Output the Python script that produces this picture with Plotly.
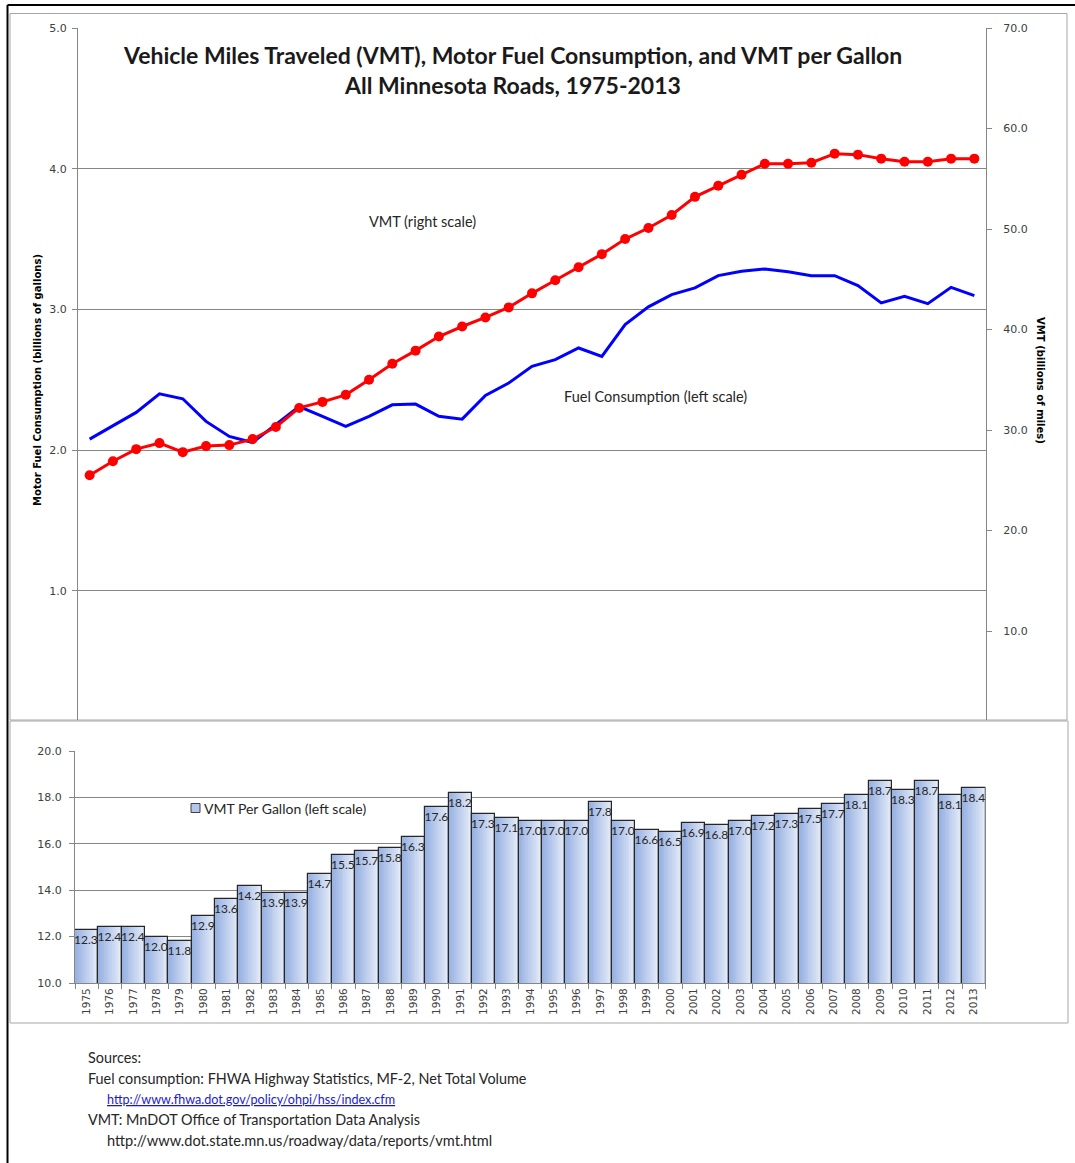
import plotly.graph_objects as go

# ---------------- data ----------------
years = [str(y) for y in range(1975, 2014)]

vmt_billions = [25.5, 26.9, 28.1, 28.7, 27.8, 28.4, 28.5, 29.1, 30.3, 32.2,
                32.8, 33.5, 35.0, 36.6, 37.9, 39.3, 40.3, 41.2, 42.2, 43.6,
                44.9, 46.2, 47.5, 49.0, 50.1, 51.4, 53.2, 54.3, 55.4, 56.5,
                56.5, 56.6, 57.5, 57.4, 57.0, 56.7, 56.7, 57.0, 57.0]

fuel_billion_gal = [2.078, 2.173, 2.268, 2.400, 2.365, 2.204, 2.097, 2.054, 2.185, 2.310,
                    2.240, 2.168, 2.240, 2.322, 2.327, 2.240, 2.220, 2.389, 2.477, 2.595,
                    2.643, 2.726, 2.666, 2.892, 3.018, 3.105, 3.153, 3.240, 3.271, 3.288,
                    3.267, 3.240, 3.240, 3.169, 3.046, 3.093, 3.041, 3.157, 3.098]

vmt_per_gallon = [12.3, 12.4, 12.4, 12.0, 11.8, 12.9, 13.6, 14.2, 13.9, 13.9,
                  14.7, 15.5, 15.7, 15.8, 16.3, 17.6, 18.2, 17.3, 17.1, 17.0,
                  17.0, 17.0, 17.8, 17.0, 16.6, 16.5, 16.9, 16.8, 17.0, 17.2,
                  17.3, 17.5, 17.7, 18.1, 18.7, 18.3, 18.7, 18.1, 18.4]

left_ticks = [1.0, 2.0, 3.0, 4.0, 5.0]
right_ticks = [10.0, 20.0, 30.0, 40.0, 50.0, 60.0, 70.0]
bottom_ticks = [10.0, 12.0, 14.0, 16.0, 18.0, 20.0]

title_line1 = "Vehicle Miles Traveled (VMT), Motor Fuel Consumption, and VMT per Gallon"
title_line2 = "All Minnesota Roads, 1975-2013"

# ---------------- geometry helpers ----------------
W, H = 1075, 1163
def px(x):
    return x / W
def py(y):
    return 1 - y / H

GRID = "#868686"
TICKFONT = dict(family="DejaVu Sans", size=11, color="#404040")
TXT = "Lato"

fig = go.Figure()

# ---- top chart lines ----
fig.add_trace(go.Scatter(
    x=years, y=fuel_billion_gal, xaxis="x", yaxis="y", mode="lines",
    line=dict(color="#0000FF", width=3), name="Fuel Consumption", showlegend=False,
    hoverinfo="x+y"))
fig.add_trace(go.Scatter(
    x=years, y=vmt_billions, xaxis="x", yaxis="y2", mode="lines+markers",
    line=dict(color="#FF0000", width=3), marker=dict(color="#FF0000", size=10),
    name="VMT", showlegend=False, hoverinfo="x+y"))

# ---- bottom chart gradient bars (vertical stripes) ----
N = 12
c0 = (152, 178, 226)
c1 = (228, 235, 248)
for i in range(N):
    t = i / (N - 1)
    col = "rgb(%d,%d,%d)" % tuple(round(a + (b - a) * t) for a, b in zip(c0, c1))
    fig.add_trace(go.Bar(
        x=years, y=vmt_per_gallon, xaxis="x2", yaxis="y3",
        base=0, offset=-0.5 + i / N, width=1 - i / N,
        marker=dict(color=col, line=dict(width=0)),
        showlegend=False, hoverinfo="skip"))
fig.add_trace(go.Bar(
    x=years, y=vmt_per_gallon, xaxis="x2", yaxis="y3",
    offset=-0.5, width=1,
    marker=dict(color="rgba(0,0,0,0)", line=dict(color="#262626", width=1.2)),
    text=["%.1f" % v for v in vmt_per_gallon],
    textposition="inside", insidetextanchor="end", textangle=0,
    constraintext="none",
    textfont=dict(family=TXT, size=12, color="#262626"),
    insidetextfont=dict(family=TXT, size=12, color="#262626"),
    name="VMT Per Gallon (left scale)", showlegend=False, hoverinfo="x+y"))

# ---------------- layout ----------------
fig.update_layout(
    width=W, height=H, autosize=False,
    margin=dict(l=0, r=0, t=0, b=0, pad=0),
    paper_bgcolor="white", plot_bgcolor="rgba(0,0,0,0)",
    barmode="overlay", bargap=0,
    showlegend=False,
    xaxis=dict(domain=[px(78), px(986)], anchor="y", type="category",
               range=[-0.5, 38.5], showticklabels=False, ticks="",
               showline=False, showgrid=False, zeroline=False, automargin=False),
    yaxis=dict(domain=[py(720), py(28)], anchor="x", range=[0.082, 5.0],
               tickvals=left_ticks, ticktext=["%.1f" % v for v in left_ticks],
               showgrid=True, gridcolor=GRID, gridwidth=1,
               showline=True, linecolor=GRID, linewidth=1,
               ticks="outside", ticklen=5, tickcolor=GRID,
               ticklabelstandoff=3, zeroline=False, tickfont=TICKFONT, automargin=False),
    yaxis2=dict(overlaying="y", side="right", anchor="x", range=[1.15, 70.0],
                tickvals=right_ticks, ticktext=["%.1f" % v for v in right_ticks],
                showgrid=False, showline=True, linecolor=GRID, linewidth=1,
                ticks="outside", ticklen=5, tickcolor=GRID,
                ticklabelstandoff=9, zeroline=False, tickfont=TICKFONT, automargin=False),
    xaxis2=dict(domain=[px(75), px(985.5)], anchor="y3", type="category",
                range=[-0.5, 38.5], tickangle=-90, ticks="outside",
                tickson="boundaries", ticklen=5, tickcolor=GRID,
                showline=True, linecolor=GRID, linewidth=1, showgrid=False,
                tickfont=dict(family="DejaVu Sans", size=10.5, color="#404040"),
                automargin=False),
    yaxis3=dict(domain=[py(983), py(751)], anchor="x2", range=[10, 20],
                tickvals=bottom_ticks, ticktext=["%.1f" % v for v in bottom_ticks],
                showgrid=True, gridcolor=GRID, gridwidth=1,
                showline=True, linecolor=GRID, linewidth=1,
                ticks="outside", ticklen=5, tickcolor=GRID,
                ticklabelstandoff=5, zeroline=False, tickfont=TICKFONT, automargin=False),
)

shapes = []
# top chart frame
shapes.append(dict(type="rect", xref="paper", yref="paper",
                   x0=px(10), x1=px(1067), y0=py(720), y1=py(13.5),
                   line=dict(color="#a6a6a6", width=1), layer="below"))
# bottom chart frame (white panel)
shapes.append(dict(type="rect", xref="paper", yref="paper",
                   x0=px(10), x1=px(1068), y0=py(1023), y1=py(721),
                   line=dict(color="#a6a6a6", width=1), fillcolor="white", layer="below"))
# outer black border (top and left)
shapes.append(dict(type="line", xref="paper", yref="paper",
                   x0=px(7.5), x1=1, y0=py(5), y1=py(5),
                   line=dict(color="black", width=2)))
shapes.append(dict(type="line", xref="paper", yref="paper",
                   x0=px(7.5), x1=px(7.5), y0=py(5), y1=0,
                   line=dict(color="black", width=2)))
# legend swatch
shapes.append(dict(type="rect", xref="paper", yref="paper",
                   x0=px(191), x1=px(200), y0=py(812.5), y1=py(803.5),
                   fillcolor="#b4c7ea", line=dict(color="#404040", width=1)))
fig.update_layout(shapes=shapes)

ann = []
def text(x, y, s, size=14, color="#262626", bold=False, xanchor="left", family=TXT, angle=0):
    ann.append(dict(xref="paper", yref="paper", x=px(x), y=py(y), text=s,
                    showarrow=False, xanchor=xanchor, yanchor="middle",
                    textangle=angle,
                    font=dict(family=family, size=size, color=color,
                              weight="bold" if bold else "normal")))

text(512, 55, title_line1, size=23, color="#1a1a1a", bold=True, xanchor="center")
text(512, 85, title_line2, size=23, color="#1a1a1a", bold=True, xanchor="center")
text(422, 221, "VMT (right scale)", size=14.5, xanchor="center")
text(655, 397, "Fuel Consumption (left scale)", size=14.5, xanchor="center")
text(37, 380, "Motor Fuel Consumption (billions of gallons)", size=11.2, bold=True,
     color="#000000", xanchor="center", family="DejaVu Sans Condensed", angle=-90)
text(1041, 380, "VMT (billions of miles)", size=11.2, bold=True,
     color="#000000", xanchor="center", family="DejaVu Sans Condensed", angle=90)
text(202, 808, "VMT Per Gallon (left scale)", size=14)

text(86, 1057, "Sources:", size=14.4)
text(86, 1078, "Fuel consumption: FHWA Highway Statistics, MF-2, Net Total Volume", size=14.4)
text(105, 1099, "<u>http://www.fhwa.dot.gov/policy/ohpi/hss/index.cfm</u>", size=12.6, color="#1a1acc")
text(86, 1119, "VMT: MnDOT Office of Transportation Data Analysis", size=14.4)
text(105, 1140, "http://www.dot.state.mn.us/roadway/data/reports/vmt.html", size=14.6)
fig.update_layout(annotations=ann)

fig.write_html("out.html",
               config={"displayModeBar": False},
               post_script="document.body.style.margin='0';document.body.style.overflow='hidden';")
